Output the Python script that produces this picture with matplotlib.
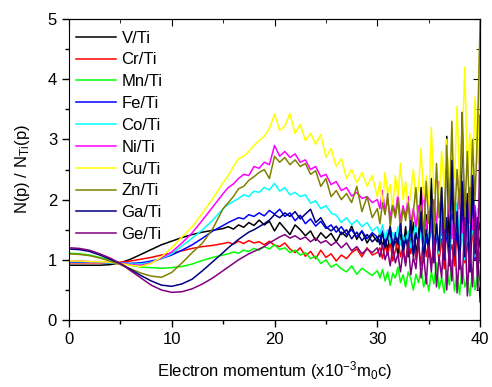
import numpy as np
import matplotlib
matplotlib.use("Agg")
import matplotlib.pyplot as plt
from matplotlib.ticker import MultipleLocator

plt.rcParams['font.family'] = ['Liberation Sans', 'DejaVu Sans']
plt.rcParams['mathtext.fontset'] = 'custom'
plt.rcParams['mathtext.rm'] = 'Liberation Sans'
plt.rcParams['mathtext.it'] = 'Liberation Sans:italic'

# momentum grid: coarse where curves are smooth, finer where they get noisy
momentum = np.concatenate([np.arange(0, 15.5, 1.0),
                           np.arange(15.5, 30.01, 0.5),
                           np.arange(30.25, 40.01, 0.25)])

labels = ["V/Ti", "Cr/Ti", "Mn/Ti", "Fe/Ti", "Co/Ti", "Ni/Ti", "Cu/Ti", "Zn/Ti", "Ga/Ti", "Ge/Ti"]

v_ti = [0.91, 0.91, 0.91, 0.91, 0.92, 0.95, 1.01, 1.09, 1.17, 1.25, 1.31, 1.37, 1.42, 1.46, 1.49, 1.52,
        1.55, 1.51, 1.58, 1.54, 1.62, 1.57, 1.66, 1.58, 1.64, 1.48, 1.62, 1.52, 1.42, 1.58, 1.50,
        1.40, 1.48, 1.32, 1.45, 1.36, 1.44, 1.30, 1.46, 1.38, 1.56, 1.34, 1.48, 1.28, 1.42, 1.30,
        1.45, 1.22, 1.38, 1.15, 1.50, 1.20, 1.35, 1.08, 1.42, 1.18, 1.55, 1.05, 1.30, 1.62, 1.10,
        1.40, 2.20, 1.25, 1.75, 1.05, 2.35, 1.15, 1.60, 0.95, 1.80, 1.20, 3.05, 1.10, 2.40, 1.00,
        1.90, 0.85, 3.45, 1.20, 2.10, 0.90, 2.60, 1.30, 1.10, 0.30]

cr_ti = [0.95, 0.95, 0.95, 0.95, 0.95, 0.96, 0.98, 1.01, 1.04, 1.08, 1.11, 1.15, 1.19, 1.22, 1.24, 1.27,
         1.29, 1.26, 1.31, 1.27, 1.32, 1.28, 1.30, 1.25, 1.31, 1.24, 1.22, 1.28, 1.18, 1.12, 1.20,
         1.06, 1.14, 1.02, 1.16, 1.04, 1.10, 0.98, 1.08, 1.02, 1.12, 1.18, 1.05, 1.20, 1.08, 1.12,
         1.20, 1.02, 1.25, 1.08, 1.30, 0.98, 1.15, 1.35, 1.05, 1.22, 0.95, 1.30, 1.10, 1.40, 1.00,
         1.25, 0.90, 1.45, 1.05, 1.30, 0.92, 1.20, 1.50, 1.00, 1.35, 0.85, 1.60, 1.10, 1.25, 0.90,
         1.45, 1.05, 1.70, 0.95, 1.30, 0.80, 1.55, 1.00, 1.35, 0.95]

mn_ti = [1.11, 1.10, 1.08, 1.04, 0.99, 0.95, 0.91, 0.88, 0.87, 0.86, 0.87, 0.89, 0.93, 0.99, 1.04, 1.08,
         1.10, 1.13, 1.11, 1.16, 1.14, 1.19, 1.16, 1.22, 1.18, 1.25, 1.17, 1.20, 1.12, 1.16, 1.08,
         1.12, 1.02, 1.06, 0.94, 1.00, 0.88, 0.93, 0.85, 0.80, 0.90, 0.76, 0.86, 0.80, 0.74, 0.82,
         0.70, 0.84, 0.65, 0.80, 0.58, 0.78, 0.70, 0.88, 0.62, 0.75, 0.55, 0.80, 0.68, 0.50, 0.76,
         0.62, 0.85, 0.55, 0.72, 0.48, 0.80, 0.60, 0.95, 0.52, 0.70, 0.45, 0.82, 0.58, 1.00, 0.48,
         0.75, 0.42, 0.90, 0.55, 0.68, 0.40, 0.85, 0.50, 0.75, 0.55]

fe_ti = [0.96, 0.96, 0.96, 0.96, 0.95, 0.95, 0.94, 0.95, 0.98, 1.02, 1.08, 1.16, 1.25, 1.36, 1.48, 1.57,
         1.62, 1.66, 1.70, 1.68, 1.75, 1.72, 1.78, 1.73, 1.82, 1.76, 1.84, 1.72, 1.78, 1.65, 1.74,
         1.60, 1.68, 1.56, 1.64, 1.52, 1.58, 1.46, 1.55, 1.42, 1.50, 1.38, 1.48, 1.35, 1.45, 1.38,
         1.30, 1.48, 1.25, 1.40, 1.55, 1.20, 1.45, 1.28, 1.60, 1.15, 1.38, 1.25, 1.50, 1.10, 1.42,
         1.30, 1.65, 1.05, 1.35, 1.20, 1.70, 1.00, 1.40, 1.25, 1.85, 1.05, 1.50, 0.95, 1.75, 1.15,
         1.45, 0.90, 1.95, 1.10, 1.60, 0.85, 2.10, 1.00, 1.50, 1.20]

co_ti = [0.97, 0.97, 0.97, 0.96, 0.95, 0.95, 0.93, 0.93, 0.96, 1.02, 1.10, 1.23, 1.36, 1.50, 1.66, 1.85,
         1.92, 1.97, 2.02, 2.08, 2.05, 2.14, 2.12, 2.20, 2.16, 2.27, 2.14, 2.20, 2.08, 2.12, 2.05,
         2.08, 1.94, 1.98, 1.85, 1.90, 1.78, 1.74, 1.62, 1.70, 1.58, 1.66, 1.55, 1.62, 1.48, 1.55,
         1.42, 1.58, 1.35, 1.50, 1.28, 1.45, 1.32, 1.55, 1.25, 1.40, 1.30, 1.48, 1.20, 1.38, 1.62,
         1.25, 1.45, 1.15, 1.55, 1.30, 1.70, 1.20, 1.50, 1.10, 1.80, 1.25, 1.55, 1.05, 1.65, 1.30,
         1.95, 1.15, 1.50, 1.00, 1.75, 1.20, 1.60, 1.05, 1.85, 1.40]

ni_ti = [0.98, 0.98, 0.97, 0.97, 0.96, 0.95, 0.92, 0.91, 0.95, 1.03, 1.13, 1.28, 1.45, 1.66, 1.88, 2.10,
         2.20, 2.26, 2.35, 2.42, 2.40, 2.55, 2.52, 2.62, 2.58, 2.90, 2.72, 2.80, 2.70, 2.76, 2.62,
         2.66, 2.50, 2.55, 2.38, 2.42, 2.25, 2.30, 2.15, 2.20, 2.06, 2.12, 2.02, 2.05, 1.95, 2.00,
         1.85, 2.15, 1.80, 2.00, 1.70, 1.95, 1.75, 2.10, 1.65, 1.90, 1.72, 2.05, 1.60, 1.85, 1.55,
         1.90, 1.62, 2.20, 1.50, 1.80, 1.45, 2.00, 1.55, 2.30, 1.40, 1.85, 1.50, 2.15, 1.35, 1.90,
         1.60, 2.40, 1.45, 1.80, 1.30, 2.20, 1.50, 1.90, 1.40, 2.10]

cu_ti = [0.98, 0.98, 0.97, 0.97, 0.96, 0.94, 0.91, 0.89, 0.94, 1.05, 1.20, 1.38, 1.55, 1.78, 2.02, 2.28,
         2.40, 2.55, 2.68, 2.72, 2.80, 2.90, 2.98, 3.05, 3.18, 3.42, 3.15, 3.22, 3.43, 3.10, 3.25,
         2.98, 3.10, 2.92, 3.08, 2.70, 2.85, 2.55, 2.68, 2.35, 2.50, 2.28, 2.45, 2.22, 2.40, 2.05,
         2.30, 1.90, 2.45, 2.10, 2.25, 1.85, 2.40, 2.05, 2.60, 2.00, 2.30, 1.80, 2.15, 2.50, 1.95,
         2.20, 2.85, 2.00, 2.40, 1.90, 3.20, 2.10, 2.50, 1.95, 2.80, 2.20, 3.00, 2.05, 2.60, 2.35,
         3.55, 2.20, 2.90, 4.20, 2.40, 3.10, 2.20, 3.70, 2.60, 5.00]

zn_ti = [1.10, 1.09, 1.07, 1.03, 0.98, 0.92, 0.85, 0.78, 0.73, 0.71, 0.79, 0.95, 1.12, 1.28, 1.52, 1.85,
         1.95, 2.05, 2.18, 2.22, 2.32, 2.38, 2.45, 2.50, 2.35, 2.72, 2.62, 2.70, 2.58, 2.66, 2.55,
         2.60, 2.42, 2.48, 2.22, 2.35, 2.05, 2.15, 2.00, 2.10, 1.95, 2.22, 1.80, 2.05, 1.70, 1.85,
         1.60, 1.95, 1.75, 2.10, 1.55, 1.90, 1.70, 2.00, 1.50, 1.85, 1.65, 1.95, 1.45, 1.80, 2.20,
         1.55, 1.90, 1.40, 2.30, 1.60, 2.00, 1.45, 2.60, 1.70, 2.20, 1.50, 2.90, 1.80, 3.30, 1.60,
         2.50, 1.85, 3.40, 1.70, 2.80, 1.60, 3.00, 2.00, 3.20, 5.00]

ga_ti = [1.18, 1.17, 1.14, 1.08, 1.01, 0.94, 0.84, 0.74, 0.65, 0.58, 0.56, 0.60, 0.68, 0.82, 0.97, 1.12,
         1.20, 1.27, 1.34, 1.40, 1.46, 1.50, 1.55, 1.60, 1.66, 1.75, 1.70, 1.78, 1.72, 1.80, 1.68,
         1.76, 1.84, 1.62, 1.70, 1.55, 1.48, 1.56, 1.42, 1.50, 1.35, 1.46, 1.32, 1.42, 1.30, 1.38,
         1.25, 1.45, 1.20, 1.38, 1.55, 1.15, 1.40, 1.25, 1.60, 1.10, 1.35, 1.20, 1.65, 1.05, 1.45,
         1.25, 1.80, 1.00, 1.50, 1.20, 2.00, 0.95, 1.60, 1.15, 2.20, 1.00, 1.70, 0.90, 2.65, 1.10,
         1.80, 0.85, 2.30, 1.05, 1.95, 0.80, 2.40, 1.10, 1.70, 1.50]

ge_ti = [1.20, 1.19, 1.16, 1.10, 1.03, 0.94, 0.82, 0.70, 0.58, 0.50, 0.46, 0.47, 0.52, 0.60, 0.70, 0.82,
         0.88, 0.94, 1.00, 1.05, 1.10, 1.14, 1.18, 1.22, 1.28, 1.33, 1.38, 1.42, 1.36, 1.40, 1.34,
         1.38, 1.30, 1.36, 1.28, 1.32, 1.24, 1.30, 1.20, 1.28, 1.15, 1.22, 1.10, 1.18, 1.12, 1.20,
         1.05, 1.25, 1.00, 1.15, 0.90, 1.20, 0.95, 1.10, 0.80, 1.15, 0.90, 1.30, 0.75, 1.05, 0.85,
         1.35, 0.70, 1.10, 0.60, 1.25, 0.80, 1.40, 0.55, 1.05, 0.70, 1.50, 0.50, 1.20, 0.65, 1.60,
         0.45, 1.15, 0.60, 1.70, 0.40, 1.30, 0.55, 1.80, 0.50, 3.40]

colors = ["#000000", "#ff0000", "#00ff00", "#0000ff", "#00ffff",
          "#ff00ff", "#ffff00", "#808000", "#000080", "#800080"]

series = [v_ti, cr_ti, mn_ti, fe_ti, co_ti, ni_ti, cu_ti, zn_ti, ga_ti, ge_ti]

fig = plt.figure(figsize=(4.92, 3.87), dpi=100)
ax = fig.add_axes([0.140, 0.173, 0.836, 0.778])

for vals, lab, col in zip(series, labels, colors):
    ax.plot(momentum, vals, color=col, lw=1.1, label=lab)

ax.set_xlim(0, 40)
ax.set_ylim(0, 5)
ax.xaxis.set_major_locator(MultipleLocator(10))
ax.xaxis.set_minor_locator(MultipleLocator(5))
ax.yaxis.set_major_locator(MultipleLocator(1))
ax.yaxis.set_minor_locator(MultipleLocator(0.5))
ax.tick_params(which='both', direction='out', labelsize=12, width=1)
ax.tick_params(which='major', length=5)
ax.tick_params(which='minor', length=3)

# top and right axes only carry inward ticks
top = ax.secondary_xaxis('top')
top.xaxis.set_major_locator(MultipleLocator(10))
top.xaxis.set_minor_locator(MultipleLocator(5))
top.tick_params(which='both', direction='in', labeltop=False)
top.tick_params(which='major', length=5)
top.tick_params(which='minor', length=3)
right = ax.secondary_yaxis('right')
right.yaxis.set_major_locator(MultipleLocator(1))
right.yaxis.set_minor_locator(MultipleLocator(0.5))
right.tick_params(which='both', direction='in', labelright=False)
right.tick_params(which='major', length=5)
right.tick_params(which='minor', length=3)

ax.set_xlabel("Electron momentum (x10$\\mathregular{^{-3}}$m$\\mathregular{_0}$c)", fontsize=12, labelpad=9)
ax.set_ylabel("N(p) / N$\\mathregular{_{Ti}}$(p)", fontsize=12, labelpad=11)

ax.legend(loc='upper left', bbox_to_anchor=(-0.01, 1.0), frameon=False, fontsize=12,
          handlelength=2.4, handletextpad=0.3, labelspacing=0.41, borderaxespad=0.3)

fig.savefig("out.png", dpi=100)
